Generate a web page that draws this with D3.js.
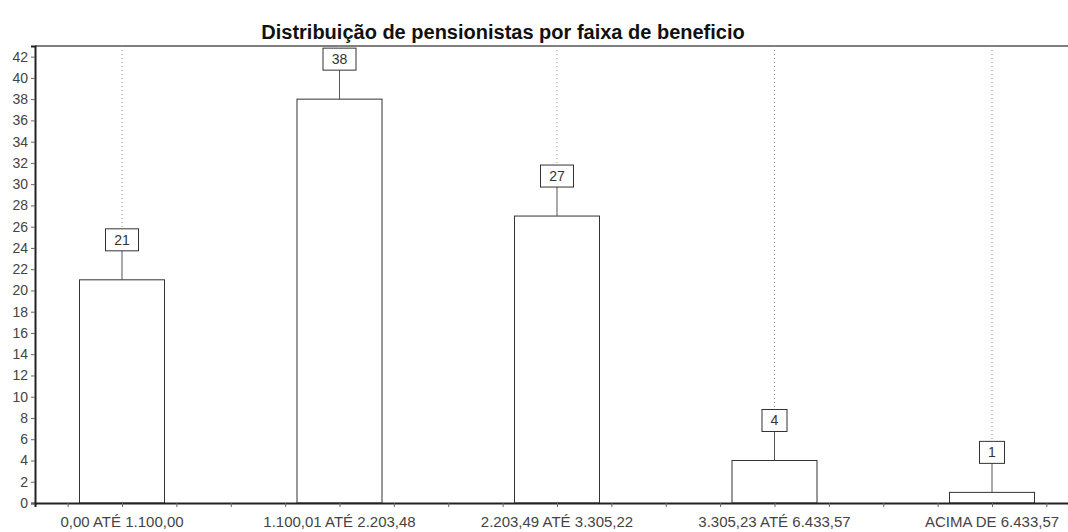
<!DOCTYPE html>
<html>
<head>
<meta charset="utf-8">
<script src="https://cdn.jsdelivr.net/npm/d3@7"></script>
<style>
  body { margin: 0; background: #fff; }
  svg { display: block; font-family: "Liberation Sans", Arial, sans-serif; }
</style>
</head>
<body>
<svg width="1068" height="532"></svg>
<script>
// chart data
const faixas = ["0,00 ATÉ 1.100,00", "1.100,01 ATÉ 2.203,48", "2.203,49 ATÉ 3.305,22", "3.305,23 ATÉ 6.433,57", "ACIMA DE 6.433,57"]
const pensionistas = [21, 38, 27, 4, 1]
const yTicks = d3.range(0, 43, 2)

const svg = d3.select('svg')
//(window.top is taken, so plotTop)
const plotLeft = 35, plotTop = 46, plotBottom = 503

//x is linear over the category index so the small ticks can go every quarter
const xScale = d3.scaleLinear()
    .domain([-0.4, 4.4])
    .range([plotLeft, plotLeft + 4.8 * 217.5])

const yScale = d3.scaleLinear()
    .domain([0, 43])
    .range([plotBottom, plotTop])

//title
svg.append('text')
    .attr('x', 503)
    .attr('y', 39)
    .attr('text-anchor', 'middle')
    .style('font-size', '20px')
    .style('font-weight', 'bold')
    .attr('fill', '#111')
    .text('Distribuição de pensionistas por faixa de beneficio')

//top frame line
svg.append('line')
    .attr('x1', plotLeft).attr('x2', 1068)
    .attr('y1', plotTop).attr('y2', plotTop)
    .attr('stroke', '#555').attr('stroke-width', 1.5)

//dotted guide lines above each bar
svg.selectAll('.guide')
    .data(pensionistas)
    .enter()
    .append('line')
    .attr('class', 'guide')
    .attr('x1', (d, i) => xScale(i))
    .attr('x2', (d, i) => xScale(i))
    .attr('y1', plotTop)
    .attr('y2', d => yScale(d) - 29 - 22)
    .attr('stroke', '#999')
    .attr('stroke-dasharray', '1,3')

//bars
const barW = 85
svg.selectAll('.bar')
    .data(pensionistas)
    .enter()
    .append('rect')
    .attr('class', 'bar')
    .attr('x', (d, i) => xScale(i) - barW / 2)
    .attr('y', d => yScale(d))
    .attr('width', barW)
    .attr('height', d => plotBottom - yScale(d))
    .attr('fill', '#fff')
    .attr('stroke', '#333')
    .attr('stroke-width', 1)

//whiskers from bar top to the label box
svg.selectAll('.whisker')
    .data(pensionistas)
    .enter()
    .append('line')
    .attr('class', 'whisker')
    .attr('x1', (d, i) => xScale(i))
    .attr('x2', (d, i) => xScale(i))
    .attr('y1', d => yScale(d))
    .attr('y2', d => yScale(d) - 29)
    .attr('stroke', '#555')

//value boxes
const boxes = svg.selectAll('.vbox')
    .data(pensionistas)
    .enter()
    .append('g')
    .attr('class', 'vbox')
    .attr('transform', (d, i) => `translate(${xScale(i)}, ${yScale(d) - 29 - 22})`)

boxes.append('rect')
    .attr('x', d => d >= 10 ? -16.5 : -12.5)
    .attr('y', 0)
    .attr('width', d => d >= 10 ? 33 : 25)
    .attr('height', 22)
    .attr('fill', '#fff')
    .attr('stroke', '#333')

boxes.append('text')
    .attr('x', 0)
    .attr('y', 16)
    .attr('text-anchor', 'middle')
    .style('font-size', '14px')
    .attr('fill', '#333')
    .text(d => d)

//y axis
const yAxis = svg.append('g')
    .attr('transform', `translate(${plotLeft}, 0)`)
    .call(d3.axisLeft(yScale).tickValues(yTicks).tickSize(4).tickPadding(3))
yAxis.select('.domain').attr('stroke', '#222').attr('stroke-width', 2)
yAxis.selectAll('.tick line').attr('stroke', '#666')
yAxis.selectAll('.tick text').style('font-size', '14px').attr('fill', '#444')

//x axis, small ticks every quarter of a category
const xAxis = svg.append('g')
    .attr('transform', `translate(0, ${plotBottom})`)
    .call(d3.axisBottom(xScale).tickValues(d3.range(-0.25, 4.4, 0.25)).tickSize(4).tickFormat(''))
xAxis.select('.domain').attr('stroke', '#222').attr('stroke-width', 2)
xAxis.selectAll('.tick line').attr('stroke', '#666')

//category labels
svg.selectAll('.cat')
    .data(faixas)
    .enter()
    .append('text')
    .attr('class', 'cat')
    .attr('x', (d, i) => xScale(i))
    .attr('y', 527)
    .attr('text-anchor', 'middle')
    .style('font-size', '15px')
    .attr('fill', '#444')
    .text(d => d)
</script>
</body>
</html>
